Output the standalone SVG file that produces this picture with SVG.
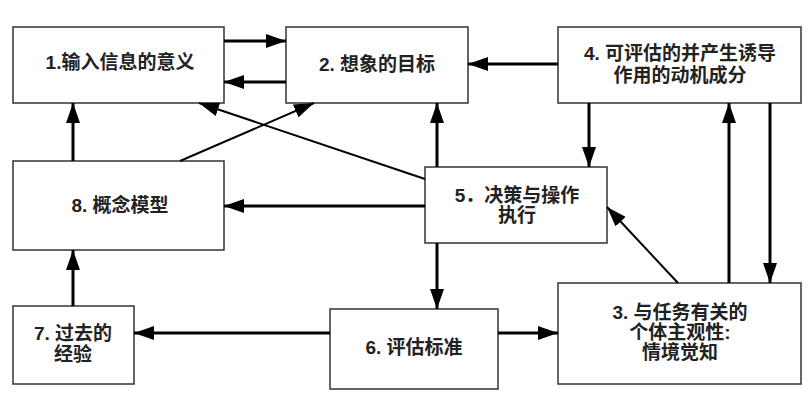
<svg xmlns="http://www.w3.org/2000/svg" width="811" height="412" viewBox="0 0 811 412">
<defs>
<marker id="ah" markerUnits="userSpaceOnUse" markerWidth="20" markerHeight="14" refX="20" refY="7" orient="auto"><path d="M0,0 L20,7 L0,14 Z" fill="#000"/></marker>
<style>
.box{fill:#fff;stroke:#333;stroke-width:1.5}
.t{font-family:"Liberation Sans","Noto Sans CJK SC",sans-serif;font-size:19px;font-weight:bold;text-anchor:middle;fill:#222}
.c{stroke:#000;stroke-width:3;fill:none;marker-end:url(#ah)}
.d{stroke:#000;stroke-width:2;fill:none;marker-end:url(#ah)}
</style>
</defs>
<rect width="811" height="412" fill="#fff"/>
<g id="n1"><rect class="box" x="13" y="27" width="211" height="76"/><text class="t" x="120" y="69">1.输入信息的意义</text></g>
<g id="n2"><rect class="box" x="286" y="27" width="182" height="76"/><text class="t" x="377" y="71">2. 想象的目标</text></g>
<g id="n4"><rect class="box" x="558" y="27" width="243" height="76"/><text class="t" x="680" y="60">4. 可评估的并产生诱导</text><text class="t" x="680" y="82">作用的动机成分</text></g>
<g id="n8"><rect class="box" x="13" y="161" width="211" height="89"/><text class="t" x="120" y="212">8. 概念模型</text></g>
<g id="n5"><rect class="box" x="425" y="167" width="182" height="76"/><text class="t" x="517" y="202">5．决策与操作</text><text class="t" x="517" y="222">执行</text></g>
<g id="n7"><rect class="box" x="13" y="306" width="121" height="78"/><text class="t" x="73" y="340">7. 过去的</text><text class="t" x="73" y="361">经验</text></g>
<g id="n6"><rect class="box" x="330" y="309" width="168" height="80"/><text class="t" x="414" y="354">6. 评估标准</text></g>
<g id="n3"><rect class="box" x="558" y="283" width="243" height="101"/><text class="t" x="680" y="319">3. 与任务有关的</text><text class="t" x="680" y="339">个体主观性:</text><text class="t" x="680" y="359">情境觉知</text></g>
<g id="connectors">
<line class="c" x1="224" y1="41" x2="286" y2="41"/>
<line class="c" x1="286" y1="82" x2="224" y2="82"/>
<line class="c" x1="558" y1="64" x2="468" y2="64"/>
<line class="c" x1="73" y1="161" x2="73" y2="103"/>
<line class="c" x1="73" y1="306" x2="73" y2="250"/>
<line class="c" x1="330" y1="333" x2="134" y2="333"/>
<line class="c" x1="498" y1="333" x2="558" y2="333"/>
<line class="c" x1="425" y1="206" x2="224" y2="206"/>
<line class="c" x1="437" y1="243" x2="437" y2="309"/>
<line class="c" x1="437" y1="167" x2="437" y2="103"/>
<line class="c" x1="589" y1="103" x2="589" y2="167"/>
<line class="c" x1="729" y1="283" x2="729" y2="103"/>
<line class="c" x1="770" y1="103" x2="770" y2="283"/>
<line class="d" x1="678" y1="283" x2="607" y2="207"/>
<line class="d" x1="180" y1="161" x2="314" y2="103"/>
<line class="d" x1="425" y1="179" x2="199" y2="103"/>
</g>
</svg>
